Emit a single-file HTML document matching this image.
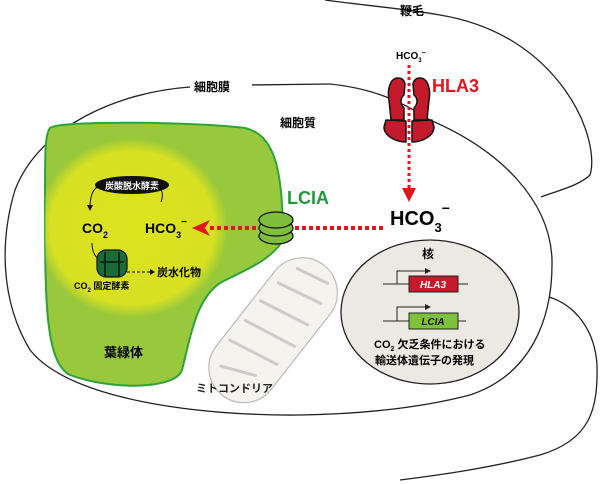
<!DOCTYPE html>
<html><head><meta charset="utf-8"><style>
html,body{margin:0;padding:0;background:#fff}
svg{display:block}
text{font-family:"Liberation Sans","Noto Sans CJK JP",sans-serif;font-weight:bold}
</style></head><body>
<svg width="600" height="485" viewBox="0 0 600 485" xmlns="http://www.w3.org/2000/svg">
<defs>
<radialGradient id="glow" cx="0.5" cy="0.5" r="0.5">
<stop offset="0" stop-color="#dde31e"/><stop offset="0.85" stop-color="#d7e022"/><stop offset="1" stop-color="#d7e022" stop-opacity="0"/>
</radialGradient>
<clipPath id="chl"><path d="M50,128 C60,120 200,122 245,128 C275,135 283,170 283,240 C270,262 240,272 220,283 C195,300 190,340 182,370 C175,390 110,390 70,375 C45,362 45,300 45,200 C45,150 45,135 50,128Z"/></clipPath>
</defs>
<!-- flagellum -->
<path d="M325,0 C360,5 400,8 440,15 C500,25 540,55 565,90 C590,125 595,160 590,175 C580,185 560,190 541,197" fill="none" stroke="#222" stroke-width="1.3"/>
<path d="M549,297 C575,305 595,330 597,365 C598,410 590,440 540,455 C490,468 440,475 400,480" fill="none" stroke="#222" stroke-width="1.3"/>
<!-- cell -->
<path d="M190,87 C120,92 40,125 15,190 C0,240 0,300 30,350 C70,400 200,416 300,415 C360,414 420,408 470,395 C530,375 553,320 552,260 C550,200 500,150 430,120 C400,100 370,88 330,84" fill="none" stroke="#222" stroke-width="1.3"/>
<line x1="250" y1="85" x2="330" y2="84" stroke="#222" stroke-width="1.3"/>
<rect x="190" y="78" width="62" height="16" fill="#fff"/>
<text x="194" y="91" font-size="12">細胞膜</text>
<text x="280" y="127" font-size="12">細胞質</text>
<text x="400" y="15" font-size="12">鞭毛</text>
<!-- chloroplast -->
<path d="M50,128 C60,120 200,122 245,128 C275,135 283,170 283,240 C270,262 240,272 220,283 C195,300 190,340 182,370 C175,390 110,390 70,375 C45,362 45,300 45,200 C45,150 45,135 50,128Z" fill="#98c83b" stroke="#2fa33a" stroke-width="2"/>
<g clip-path="url(#chl)"><ellipse cx="132" cy="228" rx="96" ry="90" fill="url(#glow)"/></g>
<text x="104" y="357" font-size="13">葉緑体</text>
<!-- mitochondria -->
<g transform="rotate(-52 272 330)">
<rect x="190" y="296" width="165" height="70" rx="35" fill="#f4f3ee" stroke="#bbb" stroke-width="1.2"/>
<path d="M212,312 L226,345 M238,303 L248,355 M263,303 L273,358 M288,303 L298,355 M313,306 L323,352 M336,312 L343,345" stroke="#ccc" stroke-width="3" fill="none" stroke-linecap="round"/>
</g>
<text x="196" y="392" font-size="11" font-weight="normal" fill="#222">ミトコンドリア</text>
<!-- carbonic anhydrase -->
<ellipse cx="132" cy="185" rx="37" ry="9" fill="#111"/>
<text x="132" y="189" font-size="9" fill="#fff" text-anchor="middle">炭酸脱水酵素</text>
<path d="M161,202 C165,190 160,186 150,186 M100,186 C92,188 90,198 90,208" fill="none" stroke="#111" stroke-width="1"/>
<path d="M87,205 L93,205 L90,211Z" fill="#111"/>
<text x="82" y="233" font-size="14">CO<tspan font-size="9" dy="5">2</tspan></text>
<text x="145" y="233" font-size="14">HCO<tspan font-size="9" dy="5">3</tspan><tspan font-size="10" dy="-13">−</tspan></text>
<path d="M92,243 C92,255 98,260 104,263" fill="none" stroke="#111" stroke-width="1"/>
<!-- rubisco -->
<rect x="97" y="250" width="30" height="27" rx="9" fill="#1a6a3a" stroke="#111" stroke-width="1.2"/>
<path d="M105,252 L105,276 M119,252 L119,276 M100,262 L124,262" stroke="#0a2a15" stroke-width="2"/>
<path d="M127,272 L150,272" stroke="#111" stroke-dasharray="3,2"/><path d="M150,269 L155,272 L150,275Z" fill="#111"/>
<text x="157" y="276" font-size="11">炭水化物</text>
<text x="74" y="289" font-size="9">CO<tspan font-size="6" dy="3">2</tspan><tspan dy="-3"> 固定酵素</tspan></text>
<!-- LCIA transport -->
<line x1="288" y1="228" x2="383" y2="228" stroke="#e0161e" stroke-width="4" stroke-dasharray="4,3"/>
<line x1="210" y1="228" x2="258" y2="228" stroke="#e0161e" stroke-width="4" stroke-dasharray="4,3"/>
<path d="M192,228 L210,220 L205,228 L210,236Z" fill="#e0161e"/>
<g fill="#7fbe3a" stroke="#111" stroke-width="1.3">
<ellipse cx="276" cy="236" rx="17" ry="8"/>
<ellipse cx="276" cy="228" rx="17" ry="8"/>
<ellipse cx="276" cy="220" rx="17" ry="8"/>
</g>
<text x="287" y="204" font-size="18" fill="#1f9a3a">LCIA</text>
<!-- HLA3 -->
<text x="396" y="59" font-size="10" font-weight="normal">HCO<tspan font-size="6" dy="3">3</tspan><tspan font-size="7" dy="-7">−</tspan></text>
<g fill="#c31a2c" stroke="#111" stroke-width="1.5" stroke-linejoin="round">
<path d="M398,78 C390,78 387,90 389,100 L391,120 L404,120 L404,108 C400,104 400,98 404,95 L405,84 C404,79 401,78 398,78Z"/>
<path d="M420,78 C428,78 431,90 429,100 L427,120 L414,120 L414,108 C418,104 418,98 414,95 L413,84 C414,79 417,78 420,78Z"/>
<path d="M386,120 L406,121 L406,142 C396,142 384,136 384,127Z"/>
<path d="M432,120 L412,121 L412,142 C422,142 434,136 434,127Z"/>
</g>
<line x1="409" y1="65" x2="409" y2="190" stroke="#e0161e" stroke-width="3" stroke-dasharray="3,3"/>
<path d="M402,188 L416,188 L409,202Z" fill="#e0161e"/>
<text x="432" y="92" font-size="18" fill="#e0161e">HLA3</text>
<text x="390" y="225" font-size="20">HCO<tspan font-size="13" dy="7">3</tspan><tspan font-size="14" dy="-19">−</tspan></text>
<!-- nucleus -->
<ellipse cx="430" cy="312" rx="89" ry="72" fill="#ece9e3" stroke="#222" stroke-width="1.3"/>
<text x="422" y="258" font-size="12">核</text>
<line x1="383" y1="284" x2="468" y2="284" stroke="#222"/>
<path d="M397,284 L397,271 L425,271" fill="none" stroke="#222"/><path d="M425,268 L431,271 L425,274Z" fill="#222"/>
<rect x="409" y="276" width="49" height="16" fill="#c41a2c" stroke="#222"/>
<text x="433" y="288" font-size="10" font-style="italic" fill="#fff" text-anchor="middle">HLA3</text>
<line x1="383" y1="321" x2="466" y2="321" stroke="#222"/>
<path d="M397,321 L397,307 L425,307" fill="none" stroke="#222"/><path d="M425,304 L431,307 L425,310Z" fill="#222"/>
<rect x="409" y="313" width="49" height="16" fill="#7ec13a" stroke="#222"/>
<text x="433" y="325" font-size="10" font-style="italic" fill="#111" text-anchor="middle">LCIA</text>
<text x="374" y="348" font-size="11">CO<tspan font-size="7" dy="3">2</tspan><tspan dy="-3"> 欠乏条件における</tspan></text>
<text x="375" y="364" font-size="11">輸送体遺伝子の発現</text>
</svg>
</body></html>
